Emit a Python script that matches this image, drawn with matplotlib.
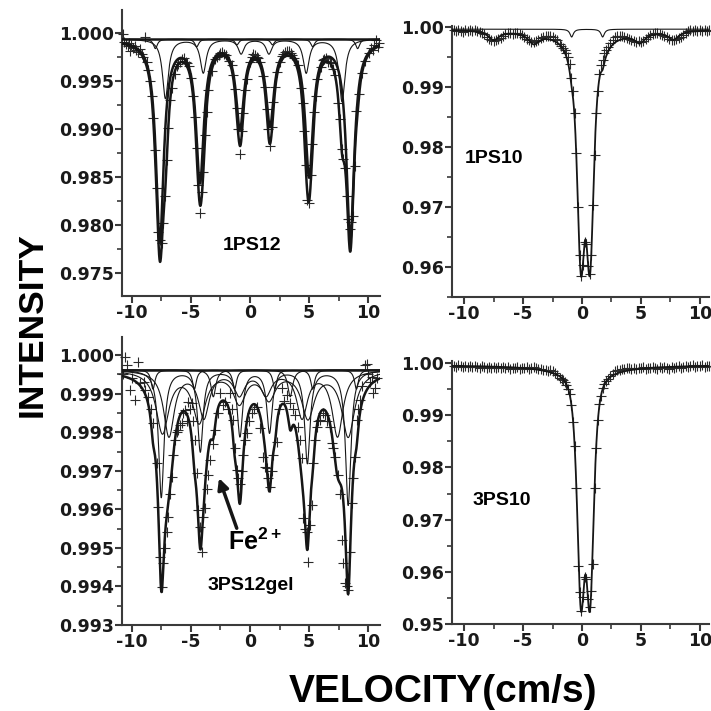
import numpy as np
import matplotlib
matplotlib.use('Agg')
import matplotlib.pyplot as plt
from matplotlib.ticker import MultipleLocator, FormatStrFormatter

plt.rcParams['font.family'] = ['Liberation Sans', 'DejaVu Sans']
plt.rcParams['font.weight'] = 'bold'
plt.rcParams['axes.unicode_minus'] = False
plt.rcParams['mathtext.fontset'] = 'custom'
plt.rcParams['mathtext.rm'] = 'Liberation Sans:bold'
plt.rcParams['mathtext.it'] = 'Liberation Sans:bold'
plt.rcParams['mathtext.bf'] = 'Liberation Sans:bold'

# ---------------- 1PS12 (top left) : fitted sub-spectra, line positions / depths
base_1ps12 = 0.9994
pos_1ps12_a = [-7.62, -4.23, -0.85, 1.69, 5.00, 8.48]
dep_1ps12_a = [0.0209, 0.0146, 0.0089, 0.0086, 0.0140, 0.0208]
gam_1ps12_a = 0.8
pos_1ps12_b = [-7.15, -3.95, -0.75, 1.60, 4.75, 7.78]
dep_1ps12_b = [0.0062, 0.0035, 0.0015, 0.0015, 0.0035, 0.0065]
gam_1ps12_b = 0.6
pos_1ps12_c = [-8.0, -4.5, -1.1, 1.9, 5.3, 9.1]
dep_1ps12_c = [0.0010, 0.0008, 0.0006, 0.0006, 0.0008, 0.0010]
gam_1ps12_c = 0.4

pts_1ps12 = [
    (-10.75, 0.9999), (-10.62, 0.9991), (-10.48, 0.9989), (-10.35, 0.9987), (-10.2, 0.9990),
    (-10.14, 0.9981), (-10.02, 0.9988), (-9.88, 0.9985), (-9.74, 0.9987), (-9.6, 0.9983),
    (-9.44, 0.9980), (-9.3, 0.9984), (-9.16, 0.9978), (-9.05, 0.9975), (-8.88, 0.9996),
    (-8.73, 0.9970), (-8.59, 0.9962), (-8.45, 0.9950), (-8.31, 0.9934), (-8.17, 0.9912),
    (-8.03, 0.9878), (-7.89, 0.9838), (-7.75, 0.9792), (-7.61, 0.9784), (-7.47, 0.9781),
    (-7.33, 0.9802), (-7.19, 0.9830), (-7.05, 0.9868), (-6.91, 0.9901), (-6.77, 0.9930),
    (-6.63, 0.9943), (-6.35, 0.9958), (-6.2, 0.9966), (-6.05, 0.9968), (-5.9, 0.9970),
    (-5.75, 0.9973), (-5.6, 0.9974), (-5.45, 0.9970), (-5.3, 0.9969), (-5.15, 0.9966),
    (-4.95, 0.9953), (-4.79, 0.9935), (-4.65, 0.9913), (-4.51, 0.9880), (-4.37, 0.9842),
    (-4.23, 0.9812), (-4.09, 0.9834), (-3.95, 0.9855), (-3.81, 0.9894), (-3.67, 0.9918),
    (-3.53, 0.9941), (-3.25, 0.9961), (-2.95, 0.9973), (-2.8, 0.9975), (-2.65, 0.9977),
    (-2.5, 0.9979), (-2.35, 0.9980), (-2.2, 0.9978), (-2.05, 0.9977), (-1.75, 0.9971),
    (-1.55, 0.9967), (-1.41, 0.9956), (-1.27, 0.9942), (-1.13, 0.9922), (-0.99, 0.9900),
    (-0.85, 0.9874), (-0.71, 0.9898), (-0.57, 0.9917), (-0.43, 0.9941), (-0.29, 0.9952),
    (-0.01, 0.9970), (0.14, 0.9975), (0.28, 0.9978), (0.42, 0.9977), (0.56, 0.9975),
    (0.7, 0.9974), (0.84, 0.9970), (1.12, 0.9955), (1.26, 0.9944), (1.4, 0.9921),
    (1.55, 0.9900), (1.69, 0.9882), (1.83, 0.9902), (1.97, 0.9928), (2.11, 0.9944),
    (2.25, 0.9960), (2.53, 0.9970), (2.68, 0.9976), (2.83, 0.9978), (2.98, 0.9980),
    (3.13, 0.9982), (3.28, 0.9981), (3.43, 0.9979), (3.58, 0.9977), (3.73, 0.9974),
    (4.03, 0.9967), (4.3, 0.9943), (4.44, 0.9927), (4.58, 0.9898), (4.72, 0.9862),
    (4.86, 0.9826), (5.0, 0.9823), (5.14, 0.9852), (5.28, 0.9884), (5.42, 0.9918),
    (5.56, 0.9935), (5.7, 0.9952), (5.98, 0.9965), (6.13, 0.9972), (6.28, 0.9973),
    (6.43, 0.9974), (6.58, 0.9970), (6.73, 0.9970), (6.88, 0.9969), (7.03, 0.9963),
    (7.18, 0.9956), (7.46, 0.9927), (7.6, 0.9910), (7.74, 0.9879), (7.88, 0.9869),
    (8.02, 0.9859), (8.16, 0.9830), (8.3, 0.9806), (8.44, 0.9796), (8.58, 0.9803),
    (8.72, 0.9809), (8.86, 0.9861), (9.0, 0.9919), (9.18, 0.9937), (9.46, 0.9959),
    (9.76, 0.9971), (10.06, 0.9979), (10.22, 0.9985), (10.36, 0.9983), (10.5, 0.9988),
    (10.66, 0.9993), (10.8, 0.9986), (10.92, 0.9990),
]

# ---------------- 1PS10 (top right)
base_1ps10 = 0.99967
pos_1ps10_dbl = [-0.10, 0.68]
dep_1ps10_dbl = [0.0334, 0.0334]
wid_1ps10_dbl = 1.16
pos_1ps10_wide = [0.29]
dep_1ps10_wide = [0.0030]
wid_1ps10_wide = 5.0
pos_1ps10_sext = [-7.5, -4.1, -1.0, 1.9, 4.9, 7.75]
dep_1ps10_sext = [0.0015, 0.0017, 0.0012, 0.0012, 0.0016, 0.0014]
gam_1ps10_sext = 1.1
pos_1ps10_thin = [-0.88, 1.75]
dep_1ps10_thin = [0.0013, 0.0013]
gam_1ps10_thin = 0.35

pts_1ps10 = [
    (-10.9, 0.9995), (-10.7, 0.9993), (-10.5, 0.9996), (-10.3, 0.9994), (-10.1, 0.9992),
    (-9.9, 0.9995), (-9.7, 0.9994), (-9.5, 0.9996), (-9.3, 0.9993), (-9.1, 0.9995),
    (-8.9, 0.9994), (-8.7, 0.9992), (-8.5, 0.9990), (-8.3, 0.9988), (-8.1, 0.9984),
    (-7.9, 0.9981), (-7.7, 0.9979), (-7.5, 0.9977), (-7.3, 0.9978), (-7.1, 0.9980),
    (-6.9, 0.9982), (-6.7, 0.9985), (-6.5, 0.9988), (-6.3, 0.9990), (-6.1, 0.9991),
    (-5.9, 0.9989), (-5.7, 0.9991), (-5.5, 0.9990), (-5.3, 0.9988), (-5.1, 0.9987),
    (-4.9, 0.9984), (-4.7, 0.9981), (-4.5, 0.9979), (-4.3, 0.9976), (-4.1, 0.9975),
    (-3.9, 0.9977), (-3.7, 0.9979), (-3.5, 0.9982), (-3.3, 0.9984), (-3.1, 0.9985),
    (-2.9, 0.9986), (-2.7, 0.9985), (-2.5, 0.9983), (-2.3, 0.9980), (-2.1, 0.9978),
    (-1.9, 0.9972), (-1.75, 0.9968), (-1.6, 0.9966), (-1.46, 0.9962), (-1.32, 0.9957),
    (-1.18, 0.9950), (-1.04, 0.9938), (-0.9, 0.9915), (-0.76, 0.9894), (-0.62, 0.9857),
    (-0.48, 0.9790), (-0.34, 0.9699), (-0.2, 0.9620), (-0.06, 0.9584), (0.08, 0.9603),
    (0.22, 0.9642), (0.36, 0.9638), (0.5, 0.9602), (0.64, 0.9587), (0.78, 0.9620),
    (0.92, 0.9703), (1.06, 0.9786), (1.2, 0.9857), (1.34, 0.9894), (1.48, 0.9922),
    (1.62, 0.9937), (1.76, 0.9946), (1.9, 0.9957), (2.04, 0.9962), (2.18, 0.9967),
    (2.4, 0.9974), (2.6, 0.9979), (2.8, 0.9983), (3.0, 0.9985), (3.2, 0.9986),
    (3.4, 0.9985), (3.6, 0.9983), (3.8, 0.9982), (4.0, 0.9980), (4.2, 0.9979),
    (4.4, 0.9977), (4.6, 0.9976), (4.8, 0.9977), (5.0, 0.9975), (5.2, 0.9977),
    (5.4, 0.9980), (5.6, 0.9983), (5.8, 0.9987), (6.0, 0.9989), (6.2, 0.9991),
    (6.4, 0.9990), (6.6, 0.9989), (6.8, 0.9987), (7.0, 0.9985), (7.2, 0.9983),
    (7.4, 0.9981), (7.6, 0.9979), (7.8, 0.9978), (8.0, 0.9980), (8.2, 0.9982),
    (8.4, 0.9984), (8.6, 0.9987), (8.8, 0.9990), (9.0, 0.9993), (9.2, 0.9995),
    (9.4, 0.9994), (9.6, 0.9996), (9.8, 0.9993), (10.0, 0.9995), (10.2, 0.9994),
    (10.4, 0.9996), (10.6, 0.9993), (10.8, 0.9995),
]

# ---------------- 3PS12gel (bottom left)
base_3ps12 = 0.99962
pos_3ps12_s1 = [-7.5, -4.2, -0.85, 1.65, 4.85, 8.3]
dep_3ps12_s1 = [0.0033, 0.0021, 0.0017, 0.0016, 0.0024, 0.0035]
gam_3ps12_s1 = 0.55
pos_3ps12_s2 = [-7.4, -4.3, -0.9, 1.6, 4.9, 8.3]
dep_3ps12_s2 = [0.0016, 0.0013, 0.0008, 0.0007, 0.0012, 0.0017]
gam_3ps12_s2 = 1.3
pos_3ps12_s3 = [-6.85, -3.9, -0.9, 1.35, 4.4, 7.4]
dep_3ps12_s3 = [0.0017, 0.0012, 0.0006, 0.0006, 0.0012, 0.0017]
gam_3ps12_s3 = 1.1
pos_3ps12_s4 = [-8.2, -4.7, -1.3, 2.1, 5.3, 9.0]
dep_3ps12_s4 = [0.0005, 0.0005, 0.0005, 0.0005, 0.0005, 0.0005]
gam_3ps12_s4 = 0.4
pos_3ps12_fe2 = [-3.1, 3.4]
dep_3ps12_fe2 = [0.0007, 0.0007]
gam_3ps12_fe2 = 0.5

pts_3ps12gel = [
    (-10.7, 0.9995), (-10.57, 0.99996), (-10.42, 0.99974), (-10.14, 0.99909), (-10.0, 0.9994),
    (-9.72, 0.99883), (-9.44, 0.99983), (-9.3, 0.99927), (-9.0, 0.9993), (-8.88, 0.99909),
    (-8.6, 0.99892), (-8.4, 0.9986), (-8.17, 0.99823), (-7.9, 0.9972), (-7.75, 0.99607),
    (-7.61, 0.99477), (-7.46, 0.99399), (-7.33, 0.9946), (-7.19, 0.99499), (-7.05, 0.9954),
    (-6.91, 0.99581), (-6.76, 0.9964), (-6.62, 0.99684), (-6.48, 0.9974), (-6.34, 0.9978),
    (-6.2, 0.9980), (-6.06, 0.99806), (-5.9, 0.9982), (-5.77, 0.99823), (-5.63, 0.9985),
    (-5.49, 0.99857), (-5.35, 0.9983), (-5.22, 0.99879), (-5.07, 0.9986), (-4.93, 0.99875),
    (-4.79, 0.9983), (-4.65, 0.9978), (-4.51, 0.99693), (-4.37, 0.99598), (-4.23, 0.99555),
    (-4.08, 0.9949), (-3.94, 0.9958), (-3.8, 0.99603), (-3.66, 0.99654), (-3.52, 0.9969),
    (-3.38, 0.99728), (-3.1, 0.9977), (-2.96, 0.99806), (-2.68, 0.9985), (-2.54, 0.99901),
    (-2.3, 0.9987), (-2.11, 0.99879), (-1.9, 0.9986), (-1.69, 0.99901), (-1.55, 0.9986),
    (-1.41, 0.99831), (-1.27, 0.9976), (-1.12, 0.99702), (-0.99, 0.9968), (-0.85, 0.99667),
    (-0.71, 0.9970), (-0.57, 0.99741), (-0.42, 0.9978), (-0.28, 0.99797), (-0.1, 0.9983),
    (0.14, 0.99849), (0.35, 0.9986), (0.57, 0.99866), (0.85, 0.9981), (1.12, 0.99736),
    (1.27, 0.9971), (1.41, 0.99706), (1.55, 0.9968), (1.69, 0.99659), (1.83, 0.9970),
    (1.97, 0.99741), (2.26, 0.99775), (2.45, 0.9986), (2.68, 0.99914), (2.9, 0.9988),
    (3.1, 0.99896), (3.38, 0.99875), (3.6, 0.9986), (3.8, 0.99844), (4.08, 0.99814),
    (4.23, 0.9978), (4.37, 0.99732), (4.51, 0.99577), (4.65, 0.9955), (4.79, 0.99542),
    (4.93, 0.99464), (5.07, 0.9956), (5.22, 0.99611), (5.35, 0.99719), (5.5, 0.9978),
    (5.64, 0.99814), (5.78, 0.9983), (5.92, 0.99831), (6.13, 0.9985), (6.34, 0.99844),
    (6.55, 0.9983), (6.76, 0.99814), (6.91, 0.99771), (7.05, 0.9976), (7.19, 0.99736),
    (7.4, 0.9969), (7.61, 0.99641), (7.75, 0.9952), (7.89, 0.9946), (8.03, 0.99408),
    (8.17, 0.9940), (8.31, 0.99391), (8.45, 0.9949), (8.6, 0.99616), (8.74, 0.9968),
    (8.88, 0.99736), (9.02, 0.99831), (9.16, 0.9986), (9.3, 0.99883), (9.5, 0.9992),
    (9.72, 0.99974), (9.86, 0.99978), (10.0, 0.9995), (10.15, 0.9993), (10.29, 0.99944),
    (10.42, 0.99901), (10.57, 0.99914), (10.75, 0.9994),
]

# ---------------- 3PS10 (bottom right)
base_3ps10 = 0.9996
pos_3ps10_dbl = [-0.10, 0.68]
dep_3ps10_dbl = [0.0391, 0.0391]
wid_3ps10_dbl = 1.16
pos_3ps10_wide = [0.29]
dep_3ps10_wide = [0.0030]
wid_3ps10_wide = 5.0

pts_3ps10 = [
    (-10.9, 0.9995), (-10.7, 0.9993), (-10.5, 0.9996), (-10.3, 0.9994), (-10.1, 0.9992),
    (-9.9, 0.9995), (-9.7, 0.9993), (-9.5, 0.9994), (-9.3, 0.9992), (-9.1, 0.9995),
    (-8.9, 0.9993), (-8.7, 0.9991), (-8.5, 0.9994), (-8.3, 0.9992), (-8.1, 0.9990),
    (-7.9, 0.9993), (-7.7, 0.9991), (-7.5, 0.9993), (-7.3, 0.9990), (-7.1, 0.9992),
    (-6.9, 0.9991), (-6.7, 0.9993), (-6.5, 0.9990), (-6.3, 0.9992), (-6.1, 0.9989),
    (-5.9, 0.9991), (-5.7, 0.9990), (-5.5, 0.9992), (-5.3, 0.9989), (-5.1, 0.9991),
    (-4.9, 0.9990), (-4.7, 0.9992), (-4.5, 0.9989), (-4.3, 0.9991), (-4.1, 0.9993),
    (-3.9, 0.9990), (-3.7, 0.9989), (-3.5, 0.9988), (-3.3, 0.9987), (-3.1, 0.9986),
    (-2.9, 0.9985), (-2.7, 0.9987), (-2.5, 0.9984), (-2.3, 0.9981), (-2.1, 0.9977),
    (-1.9, 0.9972), (-1.74, 0.9969), (-1.6, 0.9967), (-1.46, 0.9964), (-1.32, 0.9958),
    (-1.18, 0.9950), (-1.04, 0.9940), (-0.9, 0.9919), (-0.76, 0.9887), (-0.62, 0.9841),
    (-0.48, 0.9760), (-0.34, 0.9612), (-0.2, 0.9561), (-0.06, 0.9525), (0.08, 0.9552),
    (0.22, 0.9590), (0.36, 0.9586), (0.5, 0.9548), (0.64, 0.9532), (0.78, 0.9563),
    (0.92, 0.9615), (1.06, 0.9760), (1.2, 0.9838), (1.34, 0.9890), (1.48, 0.9921),
    (1.62, 0.9937), (1.76, 0.9952), (1.9, 0.9960), (2.04, 0.9965), (2.2, 0.9969),
    (2.4, 0.9976), (2.6, 0.9980), (2.8, 0.9984), (3.0, 0.9986), (3.2, 0.9987),
    (3.4, 0.9989), (3.6, 0.9988), (3.8, 0.9990), (4.0, 0.9990), (4.2, 0.9988),
    (4.4, 0.9990), (4.6, 0.9989), (4.8, 0.9991), (5.0, 0.9990), (5.2, 0.9992),
    (5.4, 0.9989), (5.6, 0.9991), (5.8, 0.9990), (6.0, 0.9992), (6.2, 0.9991),
    (6.4, 0.9989), (6.6, 0.9992), (6.8, 0.9990), (7.0, 0.9993), (7.2, 0.9991),
    (7.4, 0.9989), (7.6, 0.9992), (7.8, 0.9990), (8.0, 0.9992), (8.2, 0.9994),
    (8.4, 0.9991), (8.6, 0.9993), (8.8, 0.9995), (9.0, 0.9992), (9.2, 0.9994),
    (9.4, 0.9996), (9.6, 0.9993), (9.8, 0.9995), (10.0, 0.9994), (10.2, 0.9996),
    (10.4, 0.9993), (10.6, 0.9995), (10.8, 0.9994),
]


def absorb(v, pos, dep, width, power=1):
    out = np.zeros_like(v)
    for p, d in zip(pos, dep):
        out += d / (1 + (2 * (v - p) / width) ** 2) ** power
    return out


def style(ax, xlim, ylim, ymaj, ymin, yfmt):
    ax.set_xlim(*xlim)
    ax.set_ylim(*ylim)
    for s in ['top', 'right']:
        ax.spines[s].set_visible(False)
    for s in ['left', 'bottom']:
        ax.spines[s].set_linewidth(1.5)
        ax.spines[s].set_color('#3a3a3a')
    ax.xaxis.set_major_locator(MultipleLocator(5))
    ax.xaxis.set_minor_locator(MultipleLocator(2.5))
    ax.yaxis.set_major_locator(MultipleLocator(ymaj))
    ax.yaxis.set_minor_locator(MultipleLocator(ymin))
    ax.yaxis.set_major_formatter(FormatStrFormatter(yfmt))
    ax.tick_params(which='major', direction='out', length=5, width=1.5, color='#3a3a3a',
                   pad=1, labelsize=12.5, labelfontfamily='DejaVu Sans', labelcolor='#1a1a1a')
    ax.tick_params(which='minor', direction='out', length=3.5, width=1.2, color='#3a3a3a')


def crosses(ax, pts):
    v, y = zip(*pts)
    ax.plot(v, y, ls='none', marker='+', ms=7, mew=0.8, color='#2a2a2a', clip_on=False, zorder=3)


fig = plt.figure(figsize=(7.11, 7.11), dpi=100)
W = 711.0
ax1 = fig.add_axes([122 / W, 1 - 296 / W, 258 / W, 286 / W])
ax2 = fig.add_axes([452 / W, 1 - 297 / W, 257 / W, 271 / W])
ax3 = fig.add_axes([122 / W, 1 - 625 / W, 258 / W, 288 / W])
ax4 = fig.add_axes([452 / W, 1 - 624 / W, 257 / W, 263 / W])

vel = np.linspace(-11.2, 11.2, 1401)
thick = dict(color='#161616', lw=1.8, zorder=4)
thin = dict(color='#161616', lw=0.8, zorder=4)

# --- 1PS12
a1 = absorb(vel, pos_1ps12_a, dep_1ps12_a, gam_1ps12_a)
b1 = absorb(vel, pos_1ps12_b, dep_1ps12_b, gam_1ps12_b)
c1 = absorb(vel, pos_1ps12_c, dep_1ps12_c, gam_1ps12_c)
crosses(ax1, pts_1ps12)
ax1.axhline(base_1ps12, **thick)
ax1.plot(vel, base_1ps12 - c1, **thin)
ax1.plot(vel, base_1ps12 - b1, **thin)
ax1.plot(vel, base_1ps12 - a1, **thick)
ax1.plot(vel, base_1ps12 - a1 - b1 - c1, **thick)
style(ax1, (-10.82, 10.99), (0.97257, 1.00243), 0.005, 0.0025, '%.3f')
ax1.text(0.391, 0.161, '1PS12', transform=ax1.transAxes, fontsize=14, ha='left', va='baseline')

# --- 1PS10
d2 = absorb(vel, pos_1ps10_dbl, dep_1ps10_dbl, wid_1ps10_dbl, power=2)
w2 = absorb(vel, pos_1ps10_wide, dep_1ps10_wide, wid_1ps10_wide)
s2 = absorb(vel, pos_1ps10_sext, dep_1ps10_sext, gam_1ps10_sext)
t2 = absorb(vel, pos_1ps10_thin, dep_1ps10_thin, gam_1ps10_thin)
crosses(ax2, pts_1ps10)
ax2.plot(vel, base_1ps10 - t2, **thin)
ax2.plot(vel, base_1ps10 - d2 - w2 - s2 - t2, color='#161616', lw=1.3, zorder=4)
style(ax2, (-11.04, 10.78), (0.95494, 1.0002), 0.01, 0.005, '%.2f')
ax2.text(0.050, 0.494, '1PS10', transform=ax2.transAxes, fontsize=14, ha='left', va='baseline')

# --- 3PS12gel
e1 = absorb(vel, pos_3ps12_s1, dep_3ps12_s1, gam_3ps12_s1)
e2 = absorb(vel, pos_3ps12_s2, dep_3ps12_s2, gam_3ps12_s2)
e3 = absorb(vel, pos_3ps12_s3, dep_3ps12_s3, gam_3ps12_s3)
e4 = absorb(vel, pos_3ps12_s4, dep_3ps12_s4, gam_3ps12_s4)
fe = absorb(vel, pos_3ps12_fe2, dep_3ps12_fe2, gam_3ps12_fe2)
crosses(ax3, pts_3ps12gel)
ax3.axhline(base_3ps12, **thick)
for comp in (e1, e2, e3, e4, fe):
    ax3.plot(vel, base_3ps12 - comp, **thin)
ax3.plot(vel, base_3ps12 - e1 - e2 - e3 - e4 - fe, **thick)
style(ax3, (-10.82, 10.99), (0.993, 1.00047), 0.001, 0.0005, '%.3f')
ax3.text(0.333, 0.1215, '3PS12gel', transform=ax3.transAxes, fontsize=14, ha='left', va='baseline')
ax3.text(0.411, 0.26, 'Fe$^{2+}$', transform=ax3.transAxes, fontsize=18, ha='left', va='baseline')
ax3.annotate('', xy=(-2.62, 0.99681), xytext=(-1.12, 0.99551),
             arrowprops=dict(arrowstyle='-|>', lw=2.5, color='#161616', mutation_scale=16,
                             shrinkA=0, shrinkB=0))

# --- 3PS10
d4 = absorb(vel, pos_3ps10_dbl, dep_3ps10_dbl, wid_3ps10_dbl, power=2)
w4 = absorb(vel, pos_3ps10_wide, dep_3ps10_wide, wid_3ps10_wide)
crosses(ax4, pts_3ps10)
ax4.plot(vel, base_3ps10 - d4 - w4, color='#161616', lw=1.3, zorder=4)
style(ax4, (-11.04, 10.78), (0.95, 1.0004), 0.01, 0.005, '%.2f')
ax4.text(0.081, 0.452, '3PS10', transform=ax4.transAxes, fontsize=14, ha='left', va='baseline')

fig.text(0.045, 0.543, 'INTENSITY', rotation=90, fontsize=25.5, ha='center', va='center')
fig.text(0.6224, 0.013, 'VELOCITY(cm/s)', fontsize=28, ha='center', va='baseline')

fig.savefig('out.png', dpi=100)
